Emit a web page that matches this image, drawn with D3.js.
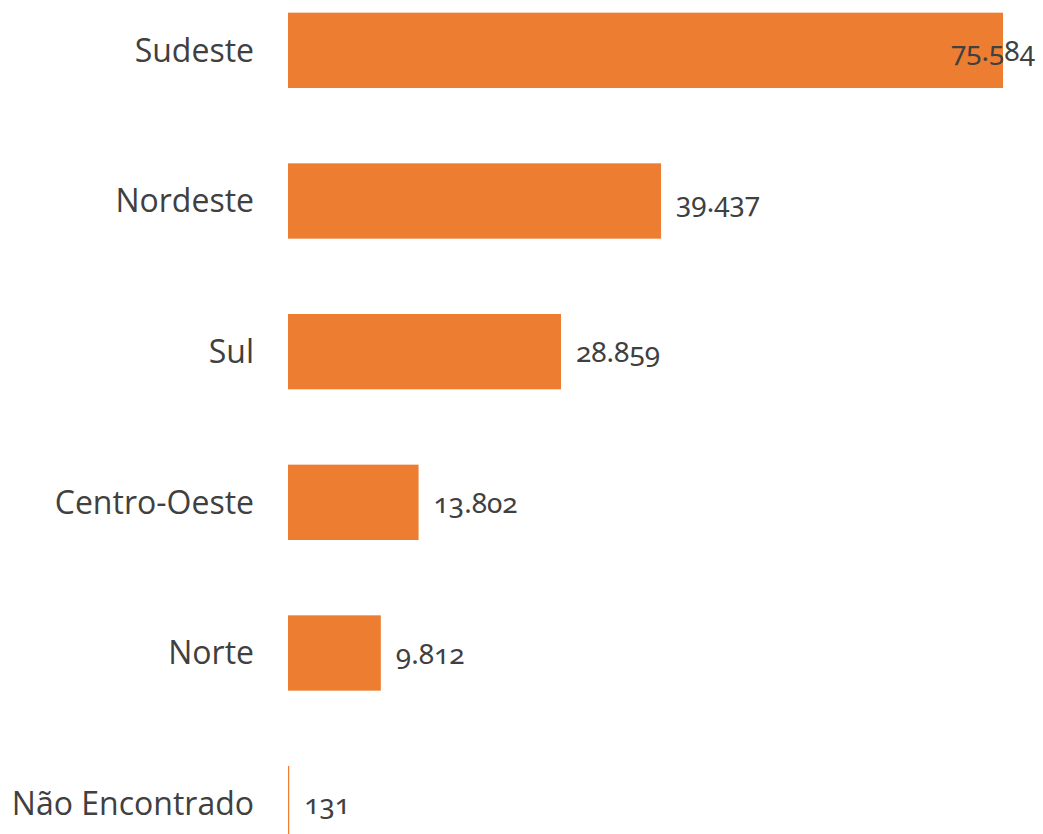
<!DOCTYPE html>
<html>
<head>
<meta charset="utf-8">
<script src="https://cdn.jsdelivr.net/npm/d3@7"></script>
<style>
  body { margin: 0; background: #fff; }
  .cat { font-family: "Open Sans", "Noto Sans", sans-serif; font-size: 32px; fill: #404040; }
  .val { font-family: "Noto Sans", "Open Sans", sans-serif; font-size: 28px; fill: #404040;
         font-feature-settings: "onum" 1; font-variant-numeric: oldstyle-nums; }
</style>
</head>
<body>
<svg id="chart" width="1043" height="834"></svg>
<script>
  // regions and counts
  const regions = ["Sudeste", "Nordeste", "Sul", "Centro-Oeste", "Norte", "Não Encontrado"];
  const counts = [75584, 39437, 28859, 13802, 9812, 131];

  const width = 1043, height = 834;
  const left = 288, right = 1003;

  const svg = d3.select("#chart");

  const x = d3.scaleLinear()
    .domain([0, d3.max(counts)])
    .range([left, right]);

  // bars 75px tall every ~150px, last one runs off the bottom edge
  const y = d3.scaleBand()
    .domain(regions)
    .range([-25, 879])
    .paddingInner(0.5)
    .paddingOuter(0.25);

  const data = regions.map((r, i) => ({ region: r, count: counts[i] }));

  // bars
  svg.append("g")
    .selectAll("rect")
    .data(data)
    .join("rect")
    .attr("x", x(0))
    .attr("y", d => y(d.region))
    .attr("width", d => Math.max(1.2, x(d.count) - x(0)))
    .attr("height", y.bandwidth())
    .attr("fill", "#ED7D31");

  // category labels
  svg.append("g")
    .selectAll("text")
    .data(data)
    .join("text")
    .attr("class", "cat")
    .attr("x", left - 34)
    .attr("y", d => y(d.region) + y.bandwidth() / 2)
    .attr("dy", "0.35em")
    .attr("text-anchor", "end")
    .text(d => d.region);

  // value labels, pulled back inside when they'd run off the edge
  const fmt = d3.formatLocale({ decimal: ",", thousands: ".", grouping: [3] }).format(",d");
  svg.append("g")
    .selectAll("text")
    .data(data)
    .join("text")
    .attr("class", "val")
    .attr("y", d => y(d.region) + y.bandwidth() / 2 + 1)
    .attr("dy", "0.35em")
    .text(d => fmt(d.count))
    .attr("x", function (d) {
      const w = this.getComputedTextLength();
      return Math.min(x(d.count) + 15, width - 8 - w);
    });
</script>
</body>
</html>
